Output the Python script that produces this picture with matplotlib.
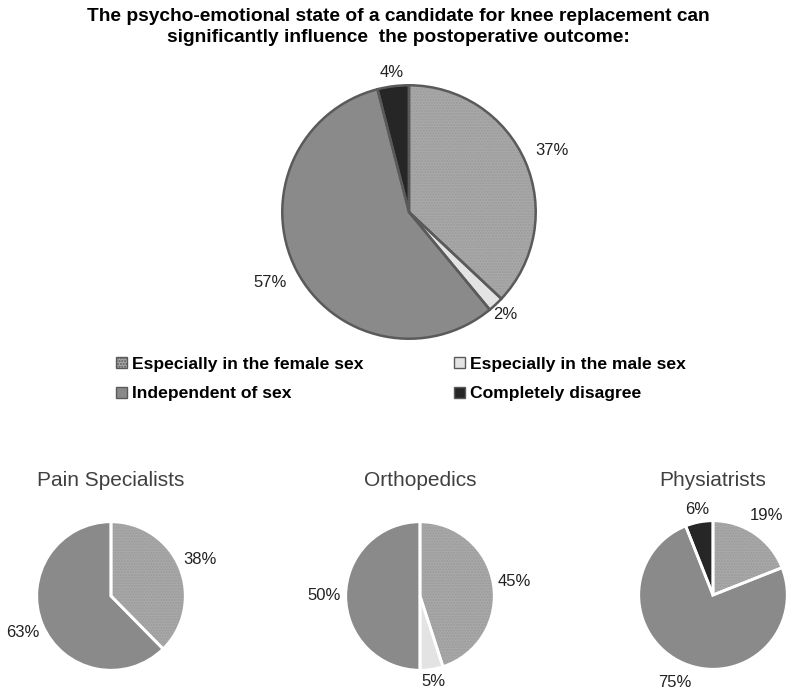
import numpy as np
import matplotlib
matplotlib.use("Agg")
import matplotlib.pyplot as plt
from matplotlib.patches import Patch

plt.rcParams["font.family"] = ["Liberation Sans", "DejaVu Sans"]

# -----------------------------
# DATA
# -----------------------------
TITLE = ("The psycho-emotional state of a candidate for knee replacement can\n"
         "significantly influence  the postoperative outcome:")
categories = ["Especially in the female sex", "Especially in the male sex",
              "Independent of sex", "Completely disagree"]
overall = [37, 2, 57, 4]

groups = ["Pain Specialists", "Orthopedics", "Physiatrists"]
pain = [38, 0, 63, 0]
ortho = [45, 5, 50, 0]
physio = [19, 0, 75, 6]
group_values = [pain, ortho, physio]

colors = ["#a9a9a9", "#e3e3e3", "#8a8a8a", "#262626"]
hatch_col = "#9a9a9a"

W, H = 797, 692
fig = plt.figure(figsize=(W / 100, H / 100), dpi=100)


def pie_axes(cx, cy, r):
    ax = fig.add_axes([(cx - r) / W, 1 - (cy + r) / H, 2 * r / W, 2 * r / H])
    ax.axis("off")
    return ax


def draw_pie(ax, values, edge, lw, dist, fs):
    keep = [i for i, v in enumerate(values) if v > 0]
    vals = [values[i] for i in keep]
    cols = [colors[i] for i in keep]
    # fill layer (hatch for the female slice)
    wedges, _ = ax.pie(vals, colors=cols, startangle=90, counterclock=False,
                       radius=1, wedgeprops=dict(linewidth=0))
    for w, i in zip(wedges, keep):
        if i == 0:
            w.set_hatch("......")
            w.set_edgecolor(hatch_col)
            w.set_linewidth(0)
    # outline layer
    ax.pie(vals, colors=["none"] * len(vals), startangle=90, counterclock=False,
           radius=1, wedgeprops=dict(linewidth=lw, edgecolor=edge))
    for w, v in zip(wedges, vals):
        mid = np.deg2rad((w.theta1 + w.theta2) / 2)
        d = dist if v >= 8 else dist - 0.12
        ax.text(d * np.cos(mid), d * np.sin(mid), f"{v}%", ha="center",
                va="center", fontsize=fs, color="#222222")
    ax.set_xlim(-1.01, 1.01)
    ax.set_ylim(-1.01, 1.01)
    ax.set_aspect("equal")


# main pie
ax0 = pie_axes(409, 212, 128)
draw_pie(ax0, overall, "#5a5a5a", 1.8, 1.23, 12)

fig.text(0.5, 1 - 27 / H, TITLE, ha="center", va="center", fontsize=13.8,
         fontweight="bold", linespacing=1.3)

# legend
handles = [Patch(facecolor=colors[i], edgecolor="#5a5a5a", linewidth=1.0,
                 hatch="......" if i == 0 else None) for i in range(4)]
order = [0, 2, 1, 3]
fig.legend([handles[i] for i in order], [categories[i] for i in order],
           ncol=2, loc="center", bbox_to_anchor=(401 / W, 1 - 379 / H),
           frameon=False, handlelength=0.6, handleheight=0.6, handletextpad=0.3,
           columnspacing=5.2, labelspacing=0.85,
           prop=dict(weight="bold", size=12.6))

# small pies
centers = [(111, 596), (420, 596), (713, 595)]
for name, vals, (cx, cy) in zip(groups, group_values, centers):
    ax = pie_axes(cx, cy, 75)
    draw_pie(ax, vals, "white", 2.0, 1.29, 12)
    fig.text(cx / W, 1 - 481 / H, name, ha="center", va="center",
             fontsize=15, color="#404040")

fig.savefig("out.png", dpi=100, facecolor="white")
